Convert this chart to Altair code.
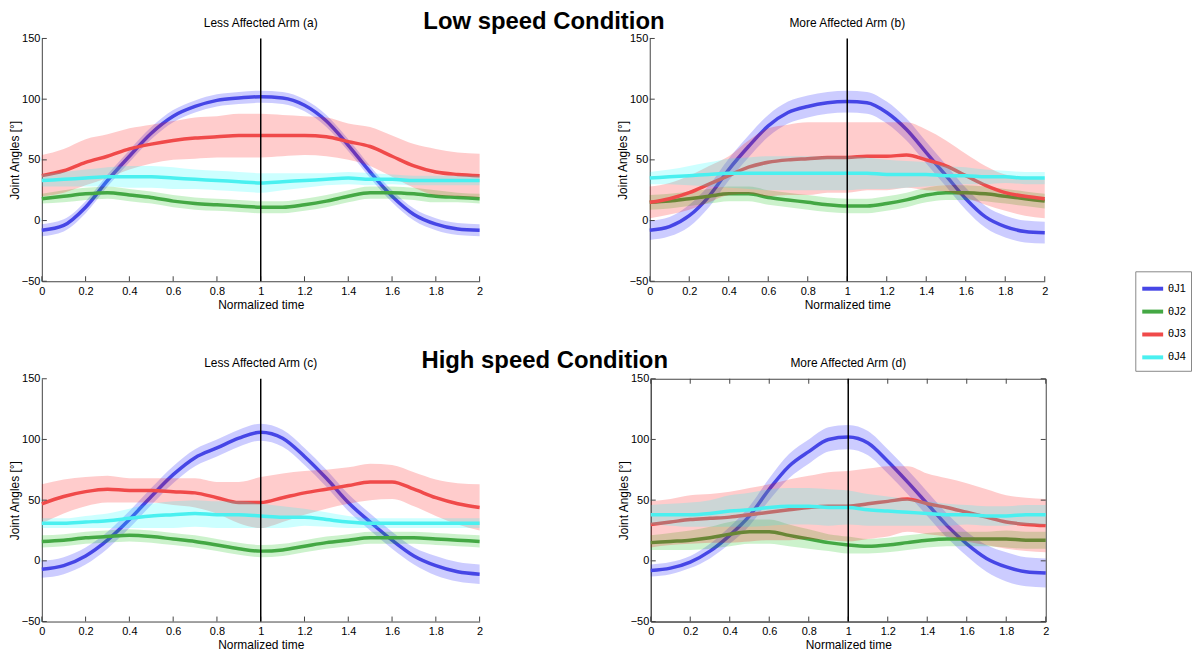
import altair as alt
import pandas as pd

T = [0.0, 0.1, 0.2, 0.3, 0.4, 0.5, 0.6, 0.7, 0.8, 0.9, 1.0,
     1.1, 1.2, 1.3, 1.4, 1.5, 1.6, 1.7, 1.8, 1.9, 2.0]
SERIES = ["θJ1", "θJ2", "θJ3", "θJ4"]
BAND_KEYS = ["b1", "b2", "b3", "b4"]
LINE_COLORS = ["#4646e6", "#44a844", "#f04a4a", "#4af0f0"]
BAND_COLORS = ["#0000ff", "#00c000", "#ff0000", "#00ffff"]
X_TICKS = [0, 0.2, 0.4, 0.6, 0.8, 1.0, 1.2, 1.4, 1.6, 1.8, 2.0]
Y_TICKS = [-50, 0, 50, 100, 150]

# Panel (a): low speed, less affected arm
A_J1 = [-8, -4, 11, 33, 53, 72, 86, 94, 99, 101, 102, 101, 95, 82, 62, 40, 20, 5, -3, -7, -8]
A_J1_SD = [5, 5, 5, 5, 5, 5, 5, 5, 5, 5, 5, 5, 5, 5, 5, 5, 5, 5, 5, 5, 5]
A_J2 = [18, 20, 22, 23, 21, 19, 16, 14, 13, 12, 11, 11, 13, 16, 20, 23, 23, 22, 20, 19, 18]
A_J2_SD = [4, 5, 5, 5, 5, 5, 5, 5, 5, 5, 5, 5, 5, 5, 5, 5, 5, 5, 5, 4, 4]
A_J3 = [37, 41, 48, 53, 59, 63, 66, 68, 69, 70, 70, 70, 70, 69, 65, 61, 53, 45, 40, 38, 37]
A_J3_SD = [17, 18, 19, 18, 17, 16, 16, 17, 17, 18, 18, 17, 16, 16, 15, 16, 17, 18, 19, 18, 18]
A_J4 = [33, 34, 35, 36, 36, 36, 35, 34, 33, 32, 31, 32, 33, 34, 35, 34, 34, 33, 33, 33, 33]
A_J4_SD = [5, 6, 7, 8, 9, 9, 9, 8, 8, 8, 8, 7, 6, 5, 5, 5, 4, 4, 4, 4, 4]

# Panel (b): low speed, more affected arm
B_J1 = [-8, -5, 4, 20, 42, 61, 78, 89, 94, 97, 98, 97, 89, 75, 56, 37, 18, 3, -5, -9, -10]
B_J1_SD = [8, 8, 9, 9, 9, 9, 9, 9, 9, 9, 9, 9, 9, 9, 9, 9, 9, 9, 9, 9, 9]
B_J2 = [15, 16, 18, 20, 22, 22, 19, 17, 15, 13, 12, 12, 14, 17, 21, 23, 23, 22, 20, 18, 16]
B_J2_SD = [6, 6, 6, 6, 6, 6, 6, 6, 6, 6, 6, 6, 6, 6, 6, 6, 6, 6, 6, 6, 6]
B_J3 = [15, 18, 23, 30, 37, 44, 48, 50, 51, 52, 52, 53, 53, 54, 50, 45, 37, 29, 23, 20, 18]
B_J3_SD = [13, 13, 14, 15, 16, 22, 28, 29, 30, 29, 29, 28, 28, 27, 25, 21, 18, 16, 15, 16, 16]
B_J4 = [35, 36, 37, 38, 39, 39, 39, 39, 39, 39, 39, 39, 38, 38, 38, 37, 37, 36, 36, 35, 35]
B_J4_SD = [5, 6, 8, 10, 12, 13, 14, 14, 14, 14, 14, 13, 12, 11, 10, 8, 7, 6, 5, 5, 5]

# Panel (c): high speed, less affected arm
C_J1 = [-7, -4, 4, 17, 34, 53, 71, 85, 93, 101, 106, 101, 86, 68, 48, 32, 17, 4, -4, -9, -11]
C_J1_SD = [7, 7, 7, 7, 7, 7, 7, 7, 7, 7, 7, 7, 7, 7, 7, 7, 7, 7, 8, 8, 8]
C_J2 = [16, 17, 19, 20, 21, 20, 18, 16, 13, 10, 8, 9, 12, 15, 17, 19, 19, 19, 18, 17, 16]
C_J2_SD = [5, 5, 5, 5, 5, 5, 5, 5, 5, 5, 5, 5, 5, 5, 5, 5, 5, 5, 5, 5, 5]
C_J3 = [47, 53, 57, 59, 58, 58, 57, 56, 52, 48, 48, 52, 56, 59, 62, 65, 65, 59, 52, 47, 44]
C_J3_SD = [16, 14, 12, 11, 10, 10, 11, 12, 13, 17, 21, 20, 18, 16, 15, 15, 14, 14, 15, 17, 19]
C_J4 = [31, 31, 32, 33, 35, 37, 38, 39, 38, 38, 37, 36, 36, 34, 32, 31, 31, 31, 31, 31, 31]
C_J4_SD = [4, 4, 5, 6, 8, 10, 11, 11, 11, 11, 10, 9, 7, 6, 5, 4, 4, 4, 4, 4, 4]

# Panel (d): high speed, more affected arm
D_J1 = [-8, -6, -1, 8, 21, 37, 59, 78, 90, 100, 102, 97, 82, 65, 47, 29, 14, 2, -5, -9, -10]
D_J1_SD = [5, 5, 5, 6, 7, 8, 9, 10, 10, 10, 10, 10, 10, 10, 10, 10, 10, 11, 12, 12, 12]
D_J2 = [15, 16, 17, 19, 22, 24, 24, 21, 18, 15, 13, 12, 13, 15, 17, 18, 18, 18, 18, 17, 17]
D_J2_SD = [6, 7, 8, 9, 10, 10, 10, 9, 8, 7, 7, 6, 6, 6, 6, 6, 6, 6, 7, 7, 7]
D_J3 = [30, 32, 34, 35, 36, 38, 40, 42, 44, 45, 45, 47, 49, 51, 47, 44, 40, 36, 32, 30, 29]
D_J3_SD = [19, 19, 20, 20, 21, 22, 23, 25, 26, 28, 29, 29, 29, 27, 25, 24, 24, 23, 22, 22, 22]
D_J4 = [38, 38, 38, 39, 41, 42, 44, 45, 45, 44, 44, 42, 41, 40, 39, 38, 38, 37, 37, 38, 38]
D_J4_SD = [8, 9, 10, 11, 13, 14, 15, 15, 15, 15, 14, 13, 12, 11, 10, 9, 8, 8, 8, 8, 8]

FONT = "Liberation Sans"
H = 244
XSCALE = alt.Scale(domain=[0, 2], nice=False, zero=False)
YSCALE = alt.Scale(domain=[-50, 150], nice=False, zero=False)
XAXIS = alt.Axis(title="Normalized time", values=X_TICKS, format="~g", labelFlush=False,
                 labelOverlap=False, ticks=False, grid=False, labelPadding=4, titlePadding=3)
YAXIS = alt.Axis(title="Joint Angles [°]", values=Y_TICKS, labelFlush=False,
                 ticks=False, grid=False, labelPadding=2, titlePadding=0)
LEGEND = alt.Legend(orient="none", legendX=1099, legendY=234, symbolType="stroke",
                    symbolStrokeWidth=4, symbolSize=441, strokeColor="#888", fillColor="white",
                    padding=5, labelFont=FONT, labelFontSize=11, rowPadding=2, labelOffset=3,
                    labelColor="black")


def panel(means, sds, title, width, boxed=False):
    layers = []
    for s, b, m, sd in zip(SERIES, BAND_KEYS, means, sds):
        df = pd.DataFrame({"t": T, "s": [s] * len(T), "b": [b] * len(T), "m": m,
                           "lo": [v - e for v, e in zip(m, sd)],
                           "hi": [v + e for v, e in zip(m, sd)]})
        band = alt.Chart(df).mark_area(opacity=0.2, interpolate="monotone").encode(
            x=alt.X("t:Q", scale=XSCALE, axis=XAXIS),
            y=alt.Y("lo:Q", scale=YSCALE, axis=YAXIS),
            y2="hi:Q",
            fill=alt.Fill("b:N", scale=alt.Scale(domain=BAND_KEYS, range=BAND_COLORS), legend=None),
        )
        line = alt.Chart(df).mark_line(strokeWidth=3.5, interpolate="monotone").encode(
            x=alt.X("t:Q", scale=XSCALE, axis=XAXIS),
            y=alt.Y("m:Q", scale=YSCALE, axis=YAXIS),
            stroke=alt.Stroke("s:N", scale=alt.Scale(domain=SERIES, range=LINE_COLORS),
                              title=None, legend=LEGEND),
        )
        layers += [band, line]

    xt = pd.DataFrame({"v": X_TICKS})
    yt = pd.DataFrame({"v": Y_TICKS})
    tick_x = alt.Chart(xt).mark_rule(color="#444", strokeWidth=1).encode(
        x=alt.X("v:Q", scale=XSCALE, axis=XAXIS), y=alt.value(H), y2=alt.value(H - 5))
    tick_y = alt.Chart(yt).mark_rule(color="#444", strokeWidth=1).encode(
        y=alt.Y("v:Q", scale=YSCALE, axis=YAXIS), x=alt.value(0), x2=alt.value(5))
    layers += [tick_x, tick_y]
    if boxed:
        layers += [
            alt.Chart(xt).mark_rule(color="#444", strokeWidth=1).encode(
                x=alt.X("v:Q", scale=XSCALE, axis=XAXIS), y=alt.value(0), y2=alt.value(5)),
            alt.Chart(yt).mark_rule(color="#444", strokeWidth=1).encode(
                y=alt.Y("v:Q", scale=YSCALE, axis=YAXIS), x=alt.value(width), x2=alt.value(width - 5)),
        ]
    vline = alt.Chart(pd.DataFrame({"v": [1.0]})).mark_rule(color="black", strokeWidth=1.5).encode(
        x=alt.X("v:Q", scale=XSCALE, axis=XAXIS), y=alt.value(0), y2=alt.value(H))
    layers.append(vline)
    props = dict(width=width, height=H,
                 title=alt.TitleParams(title, fontSize=12, fontWeight="normal", font=FONT, offset=3))
    if boxed:
        props["view"] = alt.ViewBackground(stroke="#444", strokeWidth=1)
    return alt.layer(*layers).properties(**props)


pa = panel([A_J1, A_J2, A_J3, A_J4], [A_J1_SD, A_J2_SD, A_J3_SD, A_J4_SD], "Less Affected Arm (a)", 440)
pb = panel([B_J1, B_J2, B_J3, B_J4], [B_J1_SD, B_J2_SD, B_J3_SD, B_J4_SD], "More Affected Arm (b)", 397)
pc = panel([C_J1, C_J2, C_J3, C_J4], [C_J1_SD, C_J2_SD, C_J3_SD, C_J4_SD], "Less Affected Arm (c)", 440)
pd_ = panel([D_J1, D_J2, D_J3, D_J4], [D_J1_SD, D_J2_SD, D_J3_SD, D_J4_SD], "More Affected Arm (d)", 397, boxed=True)

row1 = alt.hconcat(pa, pb, spacing=130).properties(
    title=alt.TitleParams("Low speed Condition", fontSize=24, fontWeight="bold", font=FONT,
                          anchor="middle", offset=-17, dx=14))
row2 = alt.hconcat(pc, pd_, spacing=130).properties(
    title=alt.TitleParams("High speed Condition", fontSize=24, fontWeight="bold", font=FONT,
                          anchor="middle", offset=-17, dx=14))

chart = alt.vconcat(row1, row2, spacing=39).properties(
    padding=0
).resolve_scale(stroke="shared").resolve_legend(stroke="shared").configure_view(
    strokeWidth=0
).configure_axis(
    labelFont=FONT, titleFont=FONT, labelFontSize=11, titleFontSize=12,
    titleFontWeight="normal", labelColor="black", titleColor="black",
    domainColor="#444", domainWidth=1,
)

chart.save("out.html", embed_options={"renderer": "svg", "actions": False})
